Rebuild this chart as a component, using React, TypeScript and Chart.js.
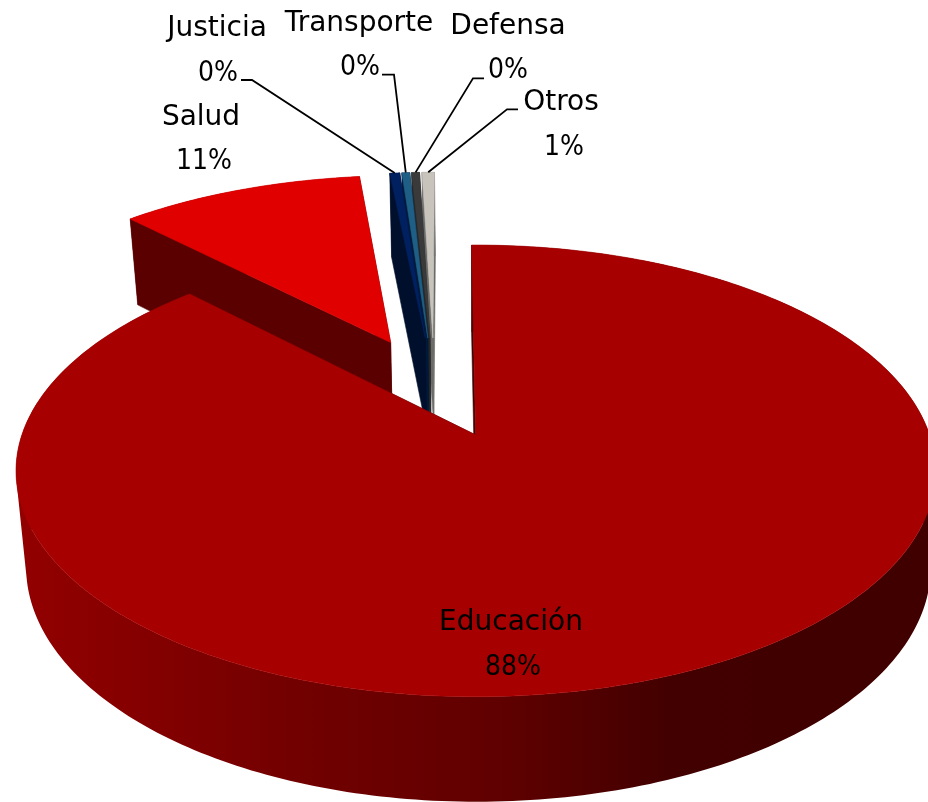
import React, { useEffect, useRef } from "react";
import { Chart, registerables } from "chart.js";

Chart.register(...registerables);

const categories = ["Educación", "Salud", "Justicia", "Transporte", "Defensa", "Otros"];
const shares = [87.8, 10.55, 0.43, 0.34, 0.34, 0.54];

const topColors = ["#a60000", "#e00000", "#00205f", "#1f5f85", "#3a3a3a", "#c8c4bc"];
const wallColors = ["#400000", "#5a0000", "#000f2b", "#001a3a", "#262626", "#6a6a68"];

const FONT = '"DejaVu Sans", sans-serif';
const FONT_SIZE = 28;
const PERCENT_SQUEEZE = 0.9;

// label centres: [name x, name y, percent x, percent y]
const labelBoxes: number[][] = [
  [511, 622.5, 513, 667.5],
  [201, 117.5, 204, 161.5],
  [217, 28.5, 218, 73.5],
  [359, 23.5, 360, 67.5],
  [508, 26.5, 508, 70.5],
  [561, 102.5, 564, 147.5],
];
// leader start and elbow: [start x, elbow x, y]
const leaders: (number[] | null)[] = [
  null,
  null,
  [241, 252, 80],
  [382, 394, 74.7],
  [484, 473, 78.3],
  [518, 507, 109.3],
];

type Pt = { x: number; y: number };

// perspective of the pie plane
const project = (u: number, up: number): Pt => {
  const w = 1 + 0.1535 * up;
  return { x: 475 + (438 * (u - 0.093)) / w, y: 386.6 - (205 * up) / w };
};
// same point on the lower face of the disc
const lower = (p: Pt): Pt => ({
  x: 475 + (p.x - 475) * (p.x < 475 ? 0.978 : 0.99),
  y: 255 + (p.y - 171) * 1.04,
});

const signedArea = (q: Pt[]) => {
  let a = 0;
  q.forEach((p, k) => {
    const r = q[(k + 1) % q.length];
    a += p.x * r.y - r.x * p.y;
  });
  return a;
};

const pie3d = {
  id: "pie3d",
  beforeDatasetsDraw(chart: any) {
    const { ctx } = chart;
    const meta = chart.getDatasetMeta(0);
    const n = meta.data.length;
    ctx.save();
    ctx.lineJoin = "round";
    for (let i = n - 1; i >= 0; i--) {
      const arc = meta.data[i];
      const { startAngle, endAngle, outerRadius } = arc.getProps([
        "startAngle",
        "endAngle",
        "outerRadius",
      ]);
      const off = arc.options.offset / outerRadius;
      const mid = (startAngle + endAngle) / 2;
      const cu = off * Math.cos(mid);
      const cup = -off * Math.sin(mid);
      const apex = project(cu, cup);
      const steps = Math.max(4, Math.ceil((endAngle - startAngle) * 60));
      const rim: Pt[] = [];
      for (let s = 0; s <= steps; s++) {
        const a = startAngle + ((endAngle - startAngle) * s) / steps;
        rim.push(project(cu + Math.cos(a), cup - Math.sin(a)));
      }
      const poly = (pts: Pt[], fill: any) => {
        ctx.beginPath();
        pts.forEach((p, k) => (k ? ctx.lineTo(p.x, p.y) : ctx.moveTo(p.x, p.y)));
        ctx.closePath();
        ctx.fillStyle = fill;
        ctx.strokeStyle = fill;
        ctx.lineWidth = 0.6;
        ctx.fill();
        ctx.stroke();
      };
      // outer wall: one path of equally wound quads, so no seams show
      let wallFill: any = wallColors[i];
      if (i === 0) {
        const g = ctx.createLinearGradient(15, 0, 928, 0);
        g.addColorStop(0, "#930000");
        g.addColorStop(0.31, "#720000");
        g.addColorStop(0.53, "#600000");
        g.addColorStop(0.72, "#420000");
        g.addColorStop(1, "#400000");
        wallFill = g;
      }
      ctx.beginPath();
      for (let s = 0; s < rim.length - 1; s++) {
        let q = [rim[s], rim[s + 1], lower(rim[s + 1]), lower(rim[s])];
        if (signedArea(q) < 0) q = q.reverse();
        q.forEach((p, k) => (k ? ctx.lineTo(p.x, p.y) : ctx.moveTo(p.x, p.y)));
        ctx.closePath();
      }
      ctx.fillStyle = wallFill;
      ctx.fill();
      // radial walls
      const first = rim[0];
      const last = rim[rim.length - 1];
      poly([apex, last, lower(last), lower(apex)], wallColors[i]);
      poly([apex, first, lower(first), lower(apex)], wallColors[i]);
      // top face
      poly([apex, ...rim], topColors[i]);
    }
    ctx.restore();
    return false;
  },
  afterDraw(chart: any) {
    const { ctx } = chart;
    const meta = chart.getDatasetMeta(0);
    const values: number[] = chart.data.datasets[0].data;
    const total = values.reduce((a, b) => a + b, 0);
    ctx.save();
    ctx.fillStyle = "#000";
    ctx.font = `${FONT_SIZE}px ${FONT}`;
    ctx.textAlign = "center";
    ctx.textBaseline = "middle";
    chart.data.labels.forEach((name: string, i: number) => {
      const b = labelBoxes[i];
      ctx.fillText(name, b[0], b[1]);
      const pct = `${Math.round((values[i] / total) * 100)}%`;
      ctx.fillText(pct, b[2], b[3], ctx.measureText(pct).width * PERCENT_SQUEEZE);
      const l = leaders[i];
      if (l) {
        const arc = meta.data[i];
        const { startAngle, endAngle, outerRadius } = arc.getProps([
          "startAngle",
          "endAngle",
          "outerRadius",
        ]);
        const off = arc.options.offset / outerRadius;
        const mid = (startAngle + endAngle) / 2;
        const tip = project((off + 1) * Math.cos(mid), -(off + 1) * Math.sin(mid));
        ctx.beginPath();
        ctx.moveTo(l[0], l[2]);
        ctx.lineTo(l[1], l[2]);
        ctx.lineTo(tip.x, tip.y);
        ctx.strokeStyle = "#000";
        ctx.lineWidth = 1.8;
        ctx.stroke();
      }
    });
    ctx.restore();
  },
};

export default function App() {
  const ref = useRef<HTMLCanvasElement>(null);
  useEffect(() => {
    const chart = new Chart(ref.current as HTMLCanvasElement, {
      type: "pie",
      data: {
        labels: categories,
        datasets: [
          {
            data: shares,
            backgroundColor: topColors,
            borderWidth: 0,
            offset: 88,
          },
        ],
      },
      options: {
        responsive: false,
        animation: false,
        events: [],
        rotation: -0.6,
        layout: { padding: 0 },
        plugins: { legend: { display: false }, tooltip: { enabled: false } },
      },
      plugins: [pie3d],
    } as any);
    return () => chart.destroy();
  }, []);
  return (
    <div style={{ position: "absolute", left: 0, top: 0, width: 928, height: 802, background: "#fff" }}>
      <canvas ref={ref} width={928} height={802} style={{ display: "block" }} />
    </div>
  );
}
